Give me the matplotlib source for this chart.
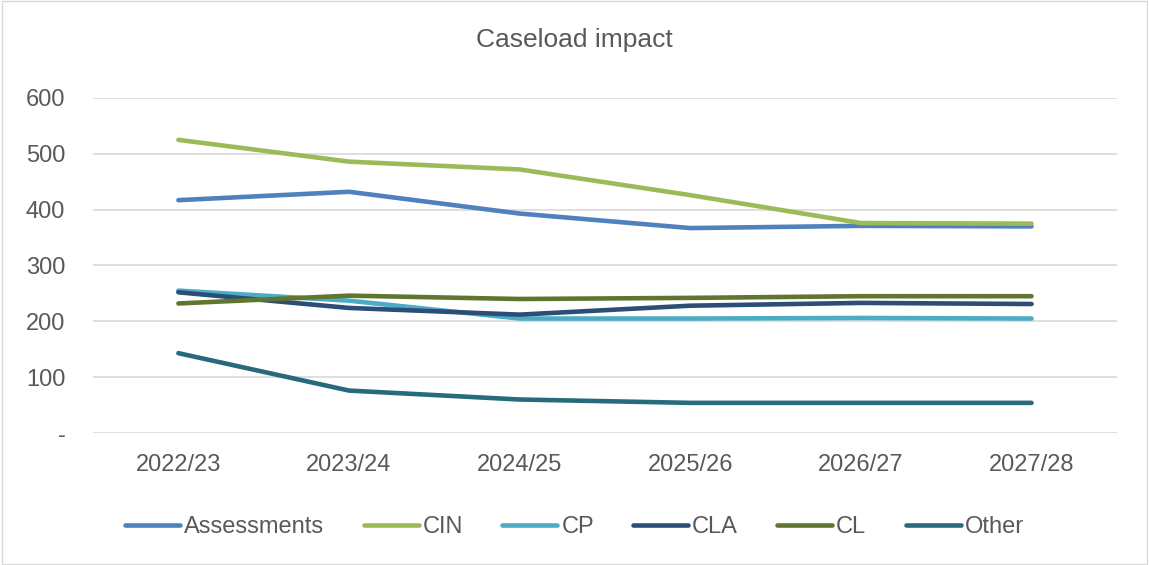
import matplotlib.pyplot as plt
from matplotlib.patches import Rectangle

plt.rcParams['font.family'] = ['Liberation Sans', 'DejaVu Sans']

years = ["2022/23", "2023/24", "2024/25", "2025/26", "2026/27", "2027/28"]
assessments = [417, 432, 393, 367, 371, 370]
cin = [525, 486, 472, 426, 376, 375]
cp = [255, 237, 205, 205, 206, 205]
cla = [252, 224, 212, 228, 233, 231]
cl = [232, 246, 240, 242, 245, 245]
other = [143, 76, 60, 54, 54, 54]

series = [
    ("Assessments", assessments, "#4F81BD"),
    ("CIN", cin, "#9BBB59"),
    ("CP", cp, "#4BACC6"),
    ("CLA", cla, "#2C4D75"),
    ("CL", cl, "#5F7530"),
    ("Other", other, "#276A7C"),
]

text_color = "#595959"
fs = 17

fig = plt.figure(figsize=(11.49, 5.65), dpi=100)
ax = fig.add_axes([0.081, 0.2336, 0.891, 0.593])

x = range(len(years))
for name, vals, color in series:
    ax.plot(x, vals, color=color, lw=3.3, solid_capstyle="round",
            solid_joinstyle="round", label=name)

ax.set_xlim(-0.5, len(years) - 0.5)
ax.set_ylim(0, 600)
ax.set_yticks([0, 100, 200, 300, 400, 500, 600])
ax.set_yticklabels(["-", "100", "200", "300", "400", "500", "600"])
ax.set_xticks(list(x))
ax.set_xticklabels(years)
ax.grid(axis="y", color="#D9D9D9", lw=1.2)
ax.set_axisbelow(True)
for s in ax.spines.values():
    s.set_visible(False)
ax.tick_params(length=0, labelsize=fs, colors=text_color)
ax.tick_params(axis="y", pad=20)
ax.tick_params(axis="x", pad=15)

fig.text(0.5, 0.929, "Caseload impact", ha="center", va="center",
         fontsize=19, color=text_color)

leg = fig.legend(loc="center", bbox_to_anchor=(0.5, 0.067), ncol=6,
                 frameon=False, fontsize=fs, handlelength=2.33,
                 handletextpad=0.17, columnspacing=1.66)
for t in leg.get_texts():
    t.set_color(text_color)

fig.patches.append(Rectangle((0.002, 0.002), 0.996, 0.996,
                             transform=fig.transFigure, fill=False,
                             edgecolor="#D9D9D9", lw=1))

fig.savefig("out.png", dpi=100)
